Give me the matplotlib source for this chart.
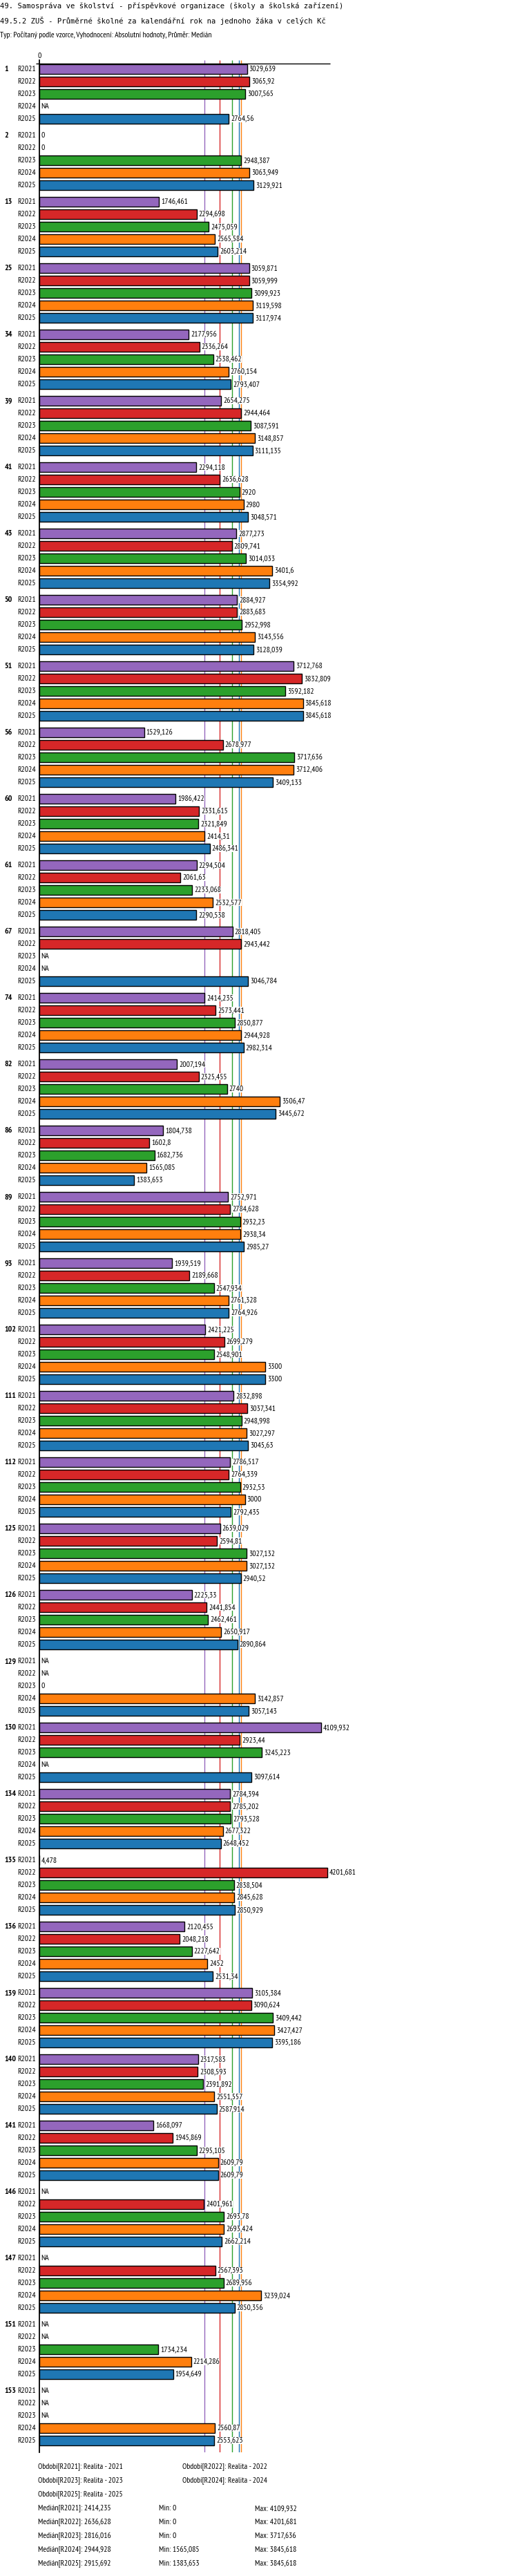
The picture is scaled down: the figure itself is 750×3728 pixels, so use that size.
import numpy as np
import matplotlib
matplotlib.use("Agg")
import matplotlib.pyplot as plt

# data (None = NA)
groups = ["1", "2", "13", "25", "34", "39", "41", "43", "50", "51", "56", "60",
          "61", "67", "74", "82", "86", "89", "93", "102", "111", "112", "125", "126",
          "129", "130", "134", "135", "136", "139", "140", "141", "146", "147", "151", "153"]
periods = ["R2021", "R2022", "R2023", "R2024", "R2025"]
colors = ["#9467bd", "#d62728", "#2ca02c", "#ff7f0e", "#1f77b4"]

r2021 = [3029.639, 0, 1746.461, 3059.871, 2177.956, 2654.275, 2294.118, 2877.273, 2884.927,
         3712.768, 1529.126, 1986.422, 2294.504, 2818.405, 2414.235, 2007.194, 1804.738,
         2752.971, 1939.519, 2421.225, 2832.898, 2786.517, 2639.029, 2225.33, None,
         4109.932, 2784.394, 4.478, 2120.455, 3105.384, 2317.583, 1668.097, None, None,
         None, None]
r2022 = [3065.92, 0, 2294.698, 3059.999, 2336.264, 2944.464, 2636.628, 2809.741, 2883.683,
         3832.809, 2678.977, 2331.615, 2061.63, 2943.442, 2573.441, 2325.455, 1602.8,
         2784.628, 2189.668, 2699.279, 3037.341, 2764.339, 2594.81, 2441.854, None,
         2923.44, 2785.202, 4201.681, 2048.218, 3090.624, 2308.593, 1945.869, 2401.961,
         2567.393, None, None]
r2023 = [3007.565, 2948.387, 2475.059, 3099.923, 2538.462, 3087.591, 2920, 3014.033, 2952.998,
         3592.182, 3717.636, 2321.849, 2233.068, None, 2850.877, 2740, 1682.736,
         2932.23, 2547.934, 2548.901, 2948.998, 2932.53, 3027.132, 2462.461, 0,
         3245.223, 2793.528, 2838.504, 2227.642, 3409.442, 2391.892, 2295.105, 2693.78,
         2689.956, 1734.234, None]
r2024 = [None, 3063.949, 2565.584, 3119.598, 2760.154, 3148.857, 2980, 3401.6, 3143.556,
         3845.618, 3712.406, 2414.31, 2532.577, None, 2944.928, 3506.47, 1565.085,
         2938.34, 2761.328, 3300, 3027.297, 3000, 3027.132, 2650.917, 3142.857,
         None, 2677.322, 2845.628, 2452, 3427.427, 2551.557, 2609.79, 2693.424,
         3239.024, 2214.286, 2560.87]
r2025 = [2764.56, 3129.921, 2603.214, 3117.974, 2793.407, 3111.135, 3048.571, 3354.992, 3128.039,
         3845.618, 3409.133, 2486.341, 2290.538, 3046.784, 2982.314, 3445.672, 1383.653,
         2985.27, 2764.926, 3300, 3045.63, 2792.435, 2940.52, 2890.864, 3057.143,
         3097.614, 2648.452, 2850.929, 2531.34, 3395.186, 2587.914, 2609.79, 2662.214,
         2850.356, 1954.649, 2553.623]
series = [r2021, r2022, r2023, r2024, r2025]
medians = [2414.235, 2636.628, 2816.016, 2944.928, 2915.692]


def fmt(v):
    if v is None:
        return "NA"
    s = "%.3f" % v
    s = s.rstrip("0").rstrip(".")
    return s.replace(".", ",")


W, H = 750, 3728
mono = ["DejaVu Sans Mono"]
narrow = ["PT Sans Narrow", "DejaVu Sans"]
fs = 8.4

fig = plt.figure(figsize=(W / 100, H / 100), dpi=100)


def ftext(x, y, s, **kw):
    fig.text(x / W, 1 - y / H, s, va="center", **kw)


ftext(0, 8.5, "49. Samospráva ve školství - příspěvkové organizace (školy a školská zařízení)",
      family=mono, fontsize=7.6)
ftext(0, 30.5, "49.5.2 ZUŠ - Průměrné školné za kalendářní rok na jednoho žáka v celých Kč",
      family=mono, fontsize=7.6)
ftext(0, 51, "Typ: Počítaný podle vzorce, Vyhodnocení: Absolutní hodnoty, Průměr: Medián",
      family=narrow, fontsize=fs)

# axes, y in pixel-like coordinates
x0, x1 = 56.7, 477.7
top, bot = 87.3, 3548.7
ax = fig.add_axes([x0 / W, 1 - bot / H, (x1 - x0) / W, (bot - top) / H])
xmax = 4240
ax.set_xlim(0, xmax)
ax.set_ylim(bot, top)
for sp in ["top", "right", "bottom"]:
    ax.spines[sp].set_visible(False)
ax.spines["left"].set_linewidth(1.3)
ax.set_xticks([])
ax.set_yticks([])
ax.patch.set_alpha(0)

ax.hlines(92.3, -45, xmax, color="black", lw=1.0, clip_on=False, zorder=4)
ax.text(0, 81, "0", ha="center", va="center", family=narrow, fontsize=fs)

ax.vlines(medians, top, bot, colors=colors, lw=1.0, zorder=1)

for g, name in enumerate(groups):
    y0 = 100.2 + 96 * g
    ax.annotate(name, (0, y0), xytext=(-50, 0), textcoords="offset pixels",
                ha="left", va="center", family=narrow, fontsize=8.6,
                fontweight="bold", annotation_clip=False)
    for p in range(5):
        y = y0 + 18 * p
        v = series[p][g]
        ax.annotate(periods[p], (0, y), xytext=(-4.5, 0), textcoords="offset pixels",
                    ha="right", va="center", family=narrow, fontsize=fs,
                    annotation_clip=False)
        if v is not None and v > 0:
            ax.barh(y, v, height=14.5, color=colors[p], edgecolor="black", lw=1.0, zorder=2)
        ax.annotate(fmt(v), (v if v is not None else 0, y), xytext=(3, 0),
                    textcoords="offset pixels", ha="left", va="center", family=narrow,
                    fontsize=fs, zorder=3, annotation_clip=False,
                    bbox=dict(facecolor="white", edgecolor="none", pad=0))

# legend / statistics
for i, per in enumerate(periods):
    col = i % 2
    row = i // 2
    ftext(55.3 + 209 * col, 3570 + 20 * row, "Období[%s]: Realita - %s" % (per, per[1:]),
          family=narrow, fontsize=fs)
for i, per in enumerate(periods):
    vals = [v for v in series[i] if v is not None]
    y = 3630 + 20 * i
    ftext(55.3, y, "Medián[%s]: %s" % (per, fmt(medians[i])), family=narrow, fontsize=fs)
    ftext(229.7, y, "Min: %s" % fmt(min(vals)), family=narrow, fontsize=fs)
    ftext(369, y, "Max: %s" % fmt(max(vals)), family=narrow, fontsize=fs)

fig.savefig("out.png", dpi=100)
